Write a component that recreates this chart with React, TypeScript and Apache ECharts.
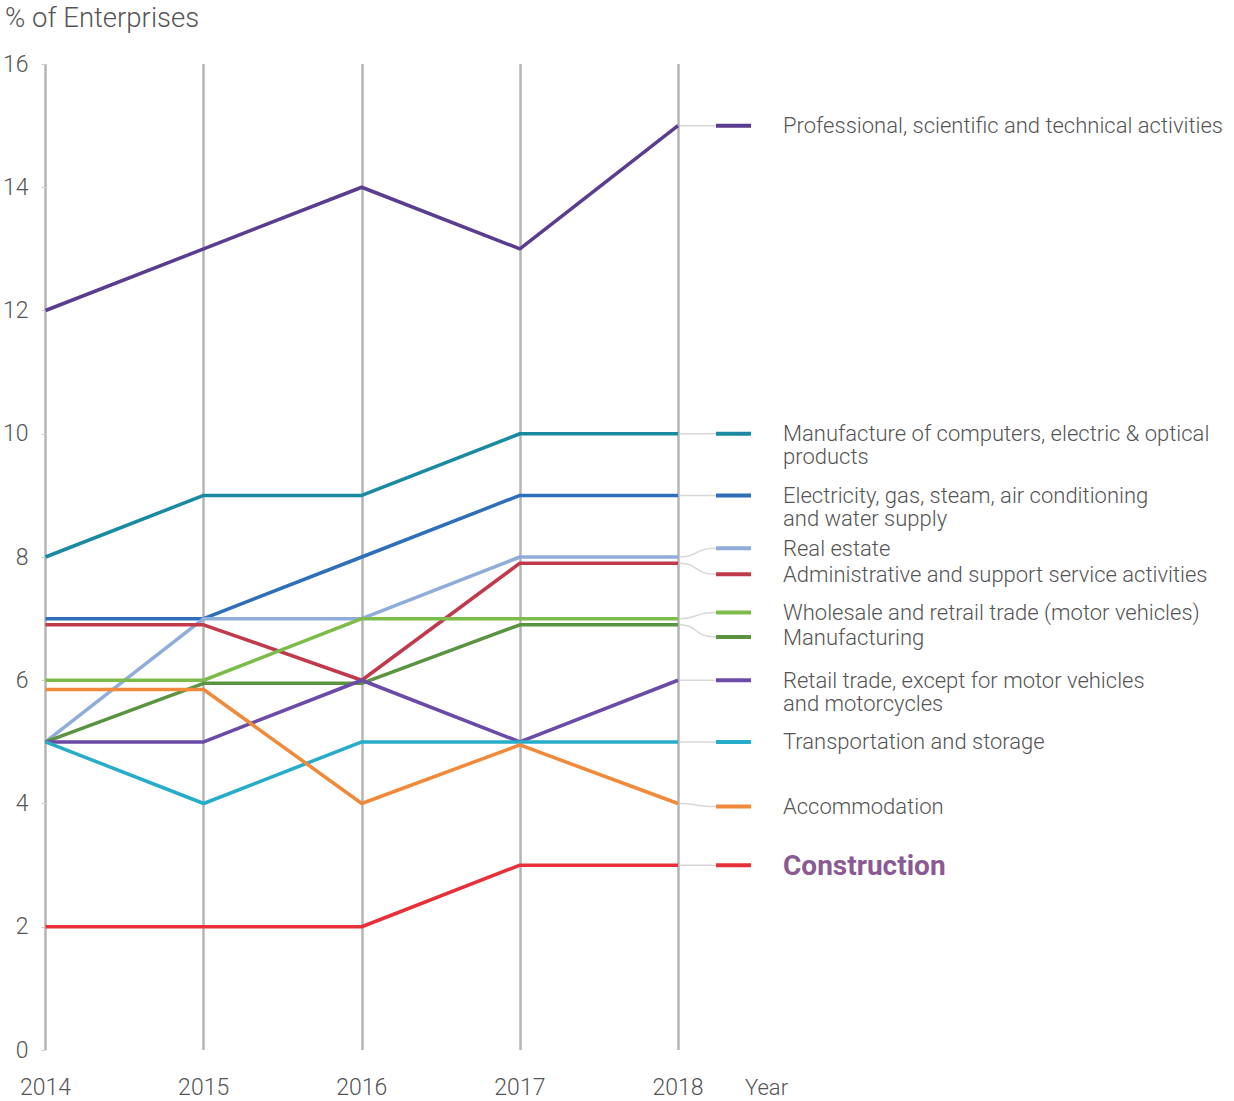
import React, { useEffect, useRef } from "react";
import * as echarts from "echarts";

const years = ["2014", "2015", "2016", "2017", "2018"];

const professional = [12, 13, 14, 13, 15];
const computers = [8, 9, 9, 10, 10];
const electricity = [7.0, 7.0, 8, 9, 9];
const realEstate = [5, 7, 7, 8, 8];
const administrative = [6.9, 6.9, 6, 7.9, 7.9];
const wholesale = [6, 6, 7, 7, 7];
const manufacturing = [5, 5.95, 5.95, 6.9, 6.9];
const retail = [5, 5, 6, 5, 6];
const transportation = [5, 4, 5, 5, 5];
const accommodation = [5.85, 5.85, 4, 4.95, 4];
const construction = [2, 2, 2, 3, 3];

const names = [
  ["Professional, scientific and technical activities"],
  ["Manufacture of computers, electric & optical", "products"],
  ["Electricity, gas, steam, air conditioning", "and water supply"],
  ["Real estate"],
  ["Administrative and support service activities"],
  ["Wholesale and retrail trade (motor vehicles)"],
  ["Manufacturing"],
  ["Retail trade, except for motor vehicles", "and motorcycles"],
  ["Transportation and storage"],
  ["Accommodation"],
  ["Construction"],
];
const seriesData = [
  professional, computers, electricity, realEstate, administrative,
  wholesale, manufacturing, retail, transportation, accommodation, construction,
];
const colors = [
  "#5b3d8f", "#1a8aa0", "#2f6fba", "#8fadd8", "#c03a4c",
  "#7dbb4a", "#5a9440", "#6c4aa8", "#27adc9", "#f08a3a", "#e8303a",
];
// legend key positions, in axis units
const legendPos = [15, 10, 9, 8.14, 7.72, 7.1, 6.7, 6, 5, 3.95, 3];

const FONT = "Roboto";

export default function App() {
  const ref = useRef<HTMLDivElement>(null);
  useEffect(() => {
    if (!ref.current) return;
    const chart = echarts.init(ref.current, undefined, { renderer: "svg" });
    chart.setOption({
      animation: false,
      grid: { left: 44, right: 556, top: 64, bottom: 51, containLabel: false },
      xAxis: {
        type: "category",
        data: years,
        boundaryGap: false,
        axisLine: { show: false },
        axisTick: { show: false },
        axisLabel: { color: "#555", fontSize: 23, fontWeight: 300, fontFamily: FONT, margin: 26 },
        splitLine: { show: true, lineStyle: { color: "#b4b4b4", width: 2.5 } },
      },
      yAxis: {
        type: "value",
        min: 0,
        max: 16,
        interval: 2,
        axisLine: { show: false },
        axisTick: { show: true, length: 4, lineStyle: { color: "#ccc" } },
        axisLabel: { color: "#555", fontSize: 23, fontWeight: 300, fontFamily: FONT, margin: 17 },
        splitLine: { show: false },
      },
      series: seriesData.map((d, i) => ({
        type: "line",
        name: names[i].join(" "),
        data: d,
        symbol: "none",
        lineStyle: { color: colors[i], width: 3.5 },
        z: 3,
      })),
    });

    const num = (v: any, k: number) => (typeof v === "number" ? v : v[k]);
    const g: any[] = [];
    g.push({
      type: "text", x: 5, y: 17,
      style: { text: "% of Enterprises", fontSize: 27.5, fontWeight: 300, fontFamily: FONT, fill: "#555", verticalAlign: "middle" },
    });
    const x18 = num(chart.convertToPixel({ xAxisIndex: 0 }, "2018"), 0);
    g.push({
      type: "text", x: x18 + 67, y: 1087,
      style: { text: "Year", fontSize: 22, fontWeight: 300, fontFamily: FONT, fill: "#555", verticalAlign: "middle" },
    });
    seriesData.forEach((d, i) => {
      const p = chart.convertToPixel({ seriesIndex: i }, [4, d[4]]) as number[];
      const y = num(chart.convertToPixel({ yAxisIndex: 0 }, legendPos[i]), 1);
      const x0 = p[0] + 2;
      const x1 = x0 + 36;
      if (Math.abs(y - p[1]) < 1.5) {
        g.push({ type: "line", shape: { x1: x0, y1: p[1], x2: x1, y2: y }, style: { stroke: "#d8d8d8", lineWidth: 1.5 } });
      } else {
        g.push({
          type: "bezierCurve",
          shape: { x1: x0, y1: p[1], cpx1: x0 + 18, cpy1: p[1], cpx2: x0 + 14, cpy2: y, x2: x1, y2: y },
          style: { stroke: "#d8d8d8", lineWidth: 1.5, fill: "none" },
        });
      }
      g.push({ type: "line", shape: { x1: x1, y1: y, x2: x1 + 35, y2: y }, style: { stroke: colors[i], lineWidth: 4 } });
      const bold = i === seriesData.length - 1;
      names[i].forEach((line, k) => {
        g.push({
          type: "text", x: x0 + 103, y: y + k * 23,
          style: {
            text: line,
            fontSize: bold ? 28 : 22,
            fontWeight: bold ? "bold" : 300,
            fontFamily: FONT,
            fill: bold ? "#8a5a92" : "#555",
            verticalAlign: "middle",
          },
        });
      });
    });
    chart.setOption({ graphic: g });
    return () => chart.dispose();
  }, []);
  return (
    <div
      ref={ref}
      style={{ position: "absolute", left: 0, top: 0, width: 1234, height: 1101, background: "#fff" }}
    />
  );
}
